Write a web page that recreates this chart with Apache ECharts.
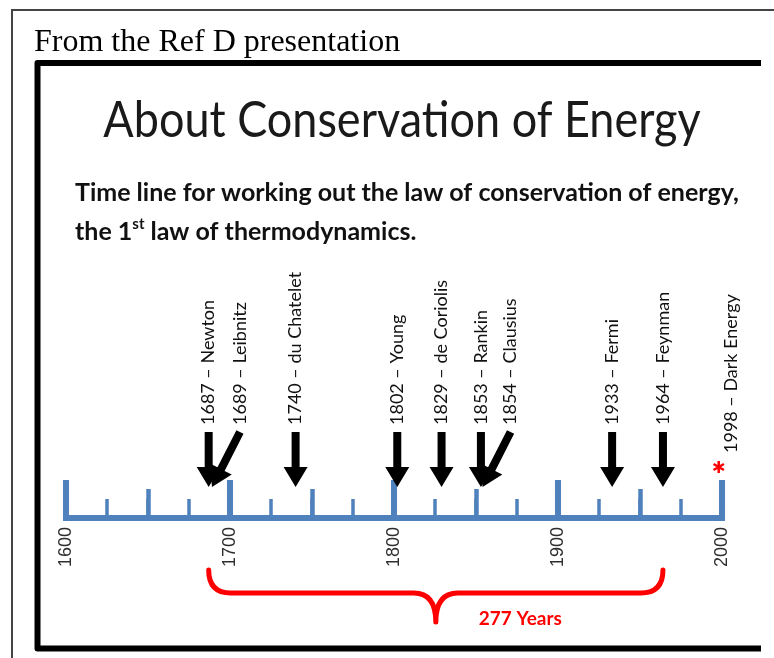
<!DOCTYPE html>
<html>
<head>
<meta charset="utf-8">
<script src="https://cdn.jsdelivr.net/npm/echarts/dist/echarts.min.js"></script>
<style>
  html, body { margin: 0; padding: 0; background: #fff; }
  #main { width: 774px; height: 658px; }
</style>
</head>
<body>
<div id="main"></div>
<script>
// timeline data
var centuryTicks = [1600, 1700, 1800, 1900, 2000];
var eventYears = [1687, 1689, 1740, 1802, 1829, 1853, 1854, 1933, 1964];
var eventNames = ['Newton', 'Leibnitz', 'du Chatelet', 'Young', 'de Coriolis', 'Rankin', 'Clausius', 'Fermi', 'Feynman'];
var starYears = [1998];
var starNames = ['Dark Energy'];

var BLUE = '#4f81bd';
var RED = '#ff0000';
var LABEL_FONT = '18px Lato';

var myChart = echarts.init(document.getElementById('main'));

function eventLabel(i, names, years) {
  return years[i] + ' \u2013 ' + names[i];
}

// black arrow + rotated label for each event
function renderArrow(params, api) {
  var i = params.dataIndex;
  var year = api.value(0);
  var base = api.coord([year, 0]);
  var lean = i > 0 && year - eventYears[i - 1] <= 2;
  var tipX = base[0], tipY = base[1] - 31;
  var tailX = tipX + (lean ? 28 : 0), tailY = base[1] - 86;
  var dx = tipX - tailX, dy = tipY - tailY;
  var len = Math.sqrt(dx * dx + dy * dy);
  var ux = dx / len, uy = dy / len;
  var px = -uy, py = ux;
  var headLen = 20, headHalf = 12, shaftHalf = 4;
  var hx = tipX - ux * headLen, hy = tipY - uy * headLen;
  var pts = [
    [tailX + px * shaftHalf, tailY + py * shaftHalf],
    [hx + px * shaftHalf, hy + py * shaftHalf],
    [hx + px * headHalf, hy + py * headHalf],
    [tipX, tipY],
    [hx - px * headHalf, hy - py * headHalf],
    [hx - px * shaftHalf, hy - py * shaftHalf],
    [tailX - px * shaftHalf, tailY - py * shaftHalf]
  ];
  return {
    type: 'group',
    children: [
      { type: 'polygon', shape: { points: pts }, style: { fill: '#000' } },
      {
        type: 'text', x: tailX, y: base[1] - 93, rotation: Math.PI / 2,
        style: { text: eventLabel(i, eventNames, eventYears), font: LABEL_FONT, fill: '#111', align: 'left', verticalAlign: 'middle' }
      }
    ]
  };
}

function renderStar(params, api) {
  var i = params.dataIndex;
  var base = api.coord([api.value(0), 0]);
  var cx = base[0], cy = base[1] - 51, r = 6;
  var d = '';
  for (var k = 0; k < 3; k++) {
    var a = Math.PI / 2 + k * Math.PI / 3;
    d += 'M' + (cx + r * Math.cos(a)) + ' ' + (cy - r * Math.sin(a)) + 'L' + (cx - r * Math.cos(a)) + ' ' + (cy + r * Math.sin(a));
  }
  return {
    type: 'group',
    children: [
      { type: 'path', shape: { pathData: d }, style: { stroke: RED, lineWidth: 2.5, fill: null } },
      {
        type: 'text', x: cx + 12, y: base[1] - 65, rotation: Math.PI / 2,
        style: { text: eventLabel(i, starNames, starYears), font: LABEL_FONT, fill: '#111', align: 'left', verticalAlign: 'middle' }
      }
    ]
  };
}

// red brace spanning first to last event
function renderBrace(params, api) {
  var L = api.coord([api.value(0), 0]);
  var R = api.coord([api.value(1), 0]);
  var cx = (L[0] + R[0]) / 2;
  var topY = L[1] + 52, midY = L[1] + 75, tipY = L[1] + 104, r = 22;
  var d = 'M' + L[0] + ' ' + topY +
    'Q' + L[0] + ' ' + midY + ' ' + (L[0] + r) + ' ' + midY +
    'L' + (cx - r) + ' ' + midY +
    'Q' + cx + ' ' + midY + ' ' + cx + ' ' + tipY +
    'Q' + cx + ' ' + midY + ' ' + (cx + r) + ' ' + midY +
    'L' + (R[0] - r) + ' ' + midY +
    'Q' + R[0] + ' ' + midY + ' ' + R[0] + ' ' + topY;
  return {
    type: 'group',
    children: [
      { type: 'path', shape: { pathData: d }, style: { stroke: RED, lineWidth: 5, fill: null, lineCap: 'round', lineJoin: 'round' } },
      {
        type: 'text', x: cx + 43, y: L[1] + 101,
        style: { text: (api.value(1) - api.value(0)) + ' Years', font: 'bold 19px Lato', fill: RED, align: 'left', verticalAlign: 'middle' }
      }
    ]
  };
}

function tickAxis(interval, length, width) {
  return {
    type: 'value', position: 'bottom',
    min: centuryTicks[0], max: centuryTicks[centuryTicks.length - 1], interval: interval,
    axisLine: { show: false }, splitLine: { show: false }, axisLabel: { show: false },
    axisTick: { inside: true, length: length, lineStyle: { color: BLUE, width: width } }
  };
}

var option = {
  animation: false,
  backgroundColor: '#fff',
  grid: { left: 66, right: 52, top: 258, bottom: 140, containLabel: false, outerBoundsMode: 'none' },
  xAxis: [
    {
      type: 'value', position: 'bottom',
      min: centuryTicks[0], max: centuryTicks[centuryTicks.length - 1], interval: 100,
      splitLine: { show: false },
      axisLine: { lineStyle: { color: BLUE, width: 6, cap: 'square' } },
      axisTick: { inside: true, length: 38, lineStyle: { color: BLUE, width: 6 } },
      axisLabel: {
        rotate: 90, margin: 9, color: '#2e2e2e', fontFamily: 'Liberation Sans', fontSize: 18,
        formatter: function (v) { return centuryTicks.indexOf(v) >= 0 ? String(v) : ''; }
      }
    },
    tickAxis(50, 29, 4.5),
    tickAxis(25, 19, 3.5)
  ],
  yAxis: { type: 'value', show: false, min: 0, max: 1 },
  graphic: [
    { type: 'polyline', shape: { points: [[774, 10], [12, 10], [12, 658]] }, style: { stroke: '#444', lineWidth: 2, fill: null } },
    { type: 'polyline', shape: { points: [[761, 63], [37.5, 63], [37.5, 648.5], [761, 648.5]] }, style: { stroke: '#000', lineWidth: 6, fill: null, lineJoin: 'round' } },
    { type: 'text', x: 34, y: 43, style: { text: 'From the Ref D presentation', font: '32px "Liberation Serif"', fill: '#000', align: 'left', verticalAlign: 'middle' } },
    { type: 'text', x: 402, y: 121, scaleY: 1.1, style: { text: 'About Conservation of Energy', font: '45px Lato', fill: '#1a1a1a', align: 'center', verticalAlign: 'middle' } },
    { type: 'text', x: 75, y: 193, style: { text: 'Time line for working out the law of conservation of energy,', font: 'bold 25px Lato', fill: '#111', align: 'left', verticalAlign: 'middle' } },
    {
      type: 'text', x: 75, y: 232,
      style: {
        text: '{n|the 1}{s|st}{n| law of thermodynamics.}', align: 'left', verticalAlign: 'middle',
        rich: {
          n: { font: 'bold 25px Lato', fill: '#111', lineHeight: 30 },
          s: { font: 'bold 15px Lato', fill: '#111', lineHeight: 19, verticalAlign: 'top' }
        }
      }
    }
  ],
  series: [
    { type: 'custom', renderItem: renderArrow, data: eventYears.map(function (y) { return [y, 0]; }), z: 5 },
    { type: 'custom', renderItem: renderStar, data: starYears.map(function (y) { return [y, 0]; }), z: 5 },
    { type: 'custom', renderItem: renderBrace, data: [[eventYears[0], eventYears[eventYears.length - 1]]], z: 5 }
  ]
};

myChart.setOption(option);
</script>
</body>
</html>
